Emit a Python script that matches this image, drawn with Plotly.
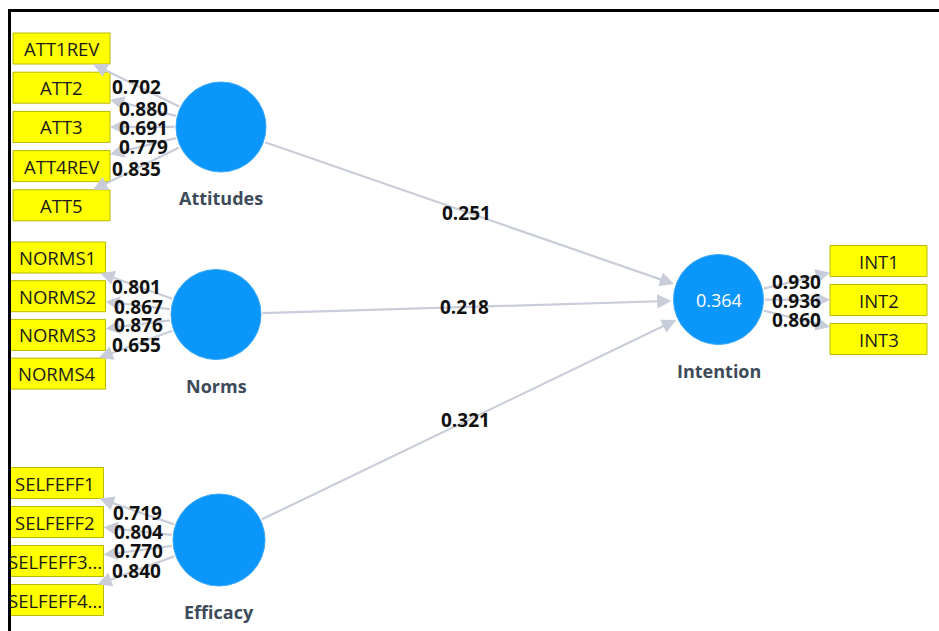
import math
import plotly.graph_objects as go

# ---------------- data ----------------
att_items = ["ATT1REV", "ATT2", "ATT3", "ATT4REV", "ATT5"]
att_loadings = [0.702, 0.880, 0.691, 0.779, 0.835]
norms_items = ["NORMS1", "NORMS2", "NORMS3", "NORMS4"]
norms_loadings = [0.801, 0.867, 0.876, 0.655]
eff_items = ["SELFEFF1", "SELFEFF2", "SELFEFF3...", "SELFEFF4..."]
eff_loadings = [0.719, 0.804, 0.770, 0.840]
int_items = ["INT1", "INT2", "INT3"]
int_loadings = [0.930, 0.936, 0.860]
exog_constructs = ["Attitudes", "Norms", "Efficacy"]
endog_construct = "Intention"
path_coefs = [0.251, 0.218, 0.321]
r2_intention = 0.364

# ---------------- layout (pixel space of the page) ----------------
W, H = 939, 631
latent_pos = {
    "Attitudes": (221, 127, 45),
    "Norms": (216, 314.5, 45),
    "Efficacy": (219, 540, 46),
    "Intention": (718.5, 299.5, 45),
}
blocks = {
    "Attitudes": dict(items=att_items, loads=att_loadings, cx=61.5, y0=48.5, step=39.2),
    "Norms": dict(items=norms_items, loads=norms_loadings, cx=57, y0=257.5, step=38.7),
    "Efficacy": dict(items=eff_items, loads=eff_loadings, cx=55, y0=483, step=39.0),
    "Intention": dict(items=int_items, loads=int_loadings, cx=878.5, y0=261, step=39.0),
}
BOX_W, BOX_H = 97, 31

LINE_COL = "#c8cdd9"
CIRC_COL = "#0a96fb"
FONT = "Open Sans"

shapes = []
annotations = []


def circle_edge(cx, cy, r, tx, ty):
    dx, dy = tx - cx, ty - cy
    d = math.hypot(dx, dy)
    return cx + r * dx / d, cy + r * dy / d


def box_edge(bx, by, tx, ty):
    dx, dy = tx - bx, ty - by
    t = min((BOX_W / 2) / abs(dx) if dx else 1e9, (BOX_H / 2) / abs(dy) if dy else 1e9)
    return bx + dx * t, by + dy * t


def arrow(x0, y0, x1, y1):
    annotations.append(dict(
        x=x1, y=y1, ax=x0, ay=y0, xref="x", yref="y", axref="x", ayref="y",
        text="", showarrow=True, arrowhead=2, arrowsize=1.3, arrowwidth=2.2,
        arrowcolor=LINE_COL,
    ))


def num_label(x, y, txt, size=19):
    annotations.append(dict(
        x=x, y=y, xref="x", yref="y", text="<b>%s</b>" % txt, showarrow=False,
        font=dict(family=FONT, size=size, color="#111111"),
    ))


# structural paths
ix, iy, ir = latent_pos[endog_construct]
for name, coef in zip(exog_constructs, path_coefs):
    cx, cy, r = latent_pos[name]
    sx, sy = circle_edge(cx, cy, r, ix, iy)
    ex, ey = circle_edge(ix, iy, ir + 2, cx, cy)
    arrow(sx, sy, ex, ey)
    num_label((cx + ix) / 2 - 3, (cy + iy) / 2, "%.3f" % coef)

# measurement model
for name, blk in blocks.items():
    cx, cy, r = latent_pos[name]
    for i, (item, ld) in enumerate(zip(blk["items"], blk["loads"])):
        bx = blk["cx"]
        by = blk["y0"] + i * blk["step"]
        shapes.append(dict(type="rect", xref="x", yref="y",
                           x0=bx - BOX_W / 2, x1=bx + BOX_W / 2,
                           y0=by - BOX_H / 2, y1=by + BOX_H / 2,
                           fillcolor="#ffff00", line=dict(color="#b8b800", width=1),
                           layer="below"))
        annotations.append(dict(x=bx, y=by, xref="x", yref="y", text=item, showarrow=False,
                                font=dict(family=FONT, size=18.5, color="#1a1a1a")))
        sx, sy = circle_edge(cx, cy, r, bx, by)
        ex, ey = box_edge(bx, by, cx, cy)
        arrow(sx, sy, ex, ey)
        num_label((sx + ex) / 2, (sy + ey) / 2 + 1, "%.3f" % ld)

# latent circles and names
for name, (cx, cy, r) in latent_pos.items():
    shapes.append(dict(type="circle", xref="x", yref="y",
                       x0=cx - r, x1=cx + r, y0=cy - r, y1=cy + r,
                       fillcolor=CIRC_COL, line=dict(color="#3aa8fb", width=1),
                       layer="above"))
    annotations.append(dict(x=cx, y=cy + r + 26, xref="x", yref="y",
                            text="<b>%s</b>" % name, showarrow=False,
                            font=dict(family=FONT, size=18, color="#3d4a5a")))

annotations.append(dict(x=ix, y=iy, xref="x", yref="y", text="%.3f" % r2_intention,
                        showarrow=False, font=dict(family=FONT, size=18, color="#ffffff")))

# frame: white strip left of border then the border lines
shapes.append(dict(type="rect", xref="x", yref="y", x0=0, x1=9, y0=0, y1=H,
                   fillcolor="white", line=dict(width=0), layer="above"))
shapes.append(dict(type="line", xref="x", yref="y", x0=8.5, x1=W, y0=10.5, y1=10.5,
                   line=dict(color="black", width=3), layer="above"))
shapes.append(dict(type="line", xref="x", yref="y", x0=9.5, x1=9.5, y0=9, y1=H,
                   line=dict(color="black", width=3), layer="above"))

fig = go.Figure()
fig.update_layout(
    width=W, height=H, autosize=False,
    margin=dict(l=0, r=0, t=0, b=0, pad=0),
    paper_bgcolor="white", plot_bgcolor="white",
    xaxis=dict(range=[0, W], visible=False, fixedrange=True),
    yaxis=dict(range=[H, 0], visible=False, fixedrange=True),
    shapes=shapes, annotations=annotations, showlegend=False,
)
fig.write_html(
    "out.html",
    config=dict(displayModeBar=False),
    post_script="document.body.style.margin='0';document.body.style.overflow='hidden';",
)
